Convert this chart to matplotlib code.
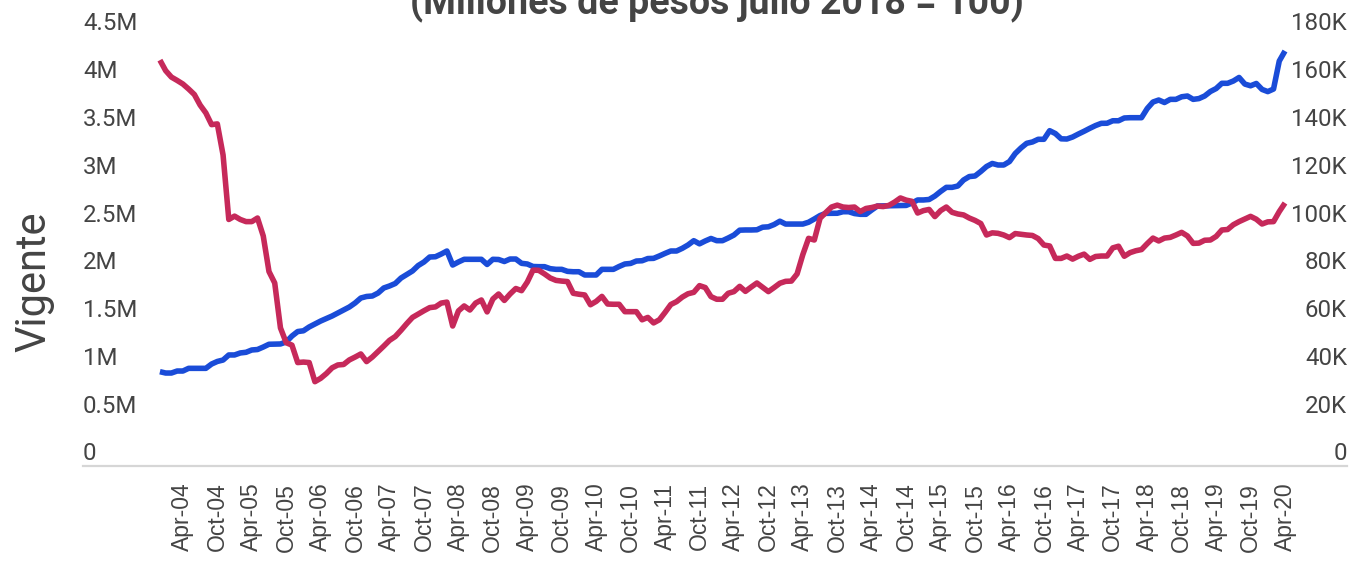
import matplotlib
matplotlib.use("Agg")
import matplotlib.pyplot as plt
import numpy as np
import pandas as pd
from matplotlib.transforms import ScaledTranslation

# ===== datos (mensuales, dic-2003 a abr-2020) =====
primer_mes = "2003-12-01"
ultimo_mes = "2020-04-01"

# cartera vigente, millones (eje izquierdo)
vigente = [
    0.987, 0.973, 0.973, 0.994, 0.994, 1.022, 1.022, 1.022, 1.022, 1.067,
    1.094, 1.109, 1.162, 1.162, 1.183, 1.190, 1.214, 1.219, 1.245, 1.274,
    1.275, 1.277, 1.298, 1.360, 1.407, 1.415, 1.455, 1.486, 1.517, 1.544,
    1.570, 1.601, 1.632, 1.664, 1.706, 1.758, 1.774, 1.779, 1.810, 1.863,
    1.884, 1.910, 1.967, 2.004, 2.041, 2.098, 2.135, 2.187, 2.190, 2.218,
    2.250, 2.103, 2.135, 2.163, 2.163, 2.163, 2.163, 2.109, 2.163, 2.161,
    2.140, 2.166, 2.166, 2.121, 2.114, 2.088, 2.086, 2.086, 2.065, 2.058,
    2.058, 2.037, 2.033, 2.033, 1.999, 1.999, 1.999, 2.058, 2.058, 2.058,
    2.088, 2.114, 2.120, 2.145, 2.148, 2.171, 2.173, 2.198, 2.225, 2.250,
    2.250, 2.278, 2.313, 2.358, 2.325, 2.355, 2.381, 2.358, 2.358, 2.386,
    2.417, 2.468, 2.470, 2.470, 2.472, 2.499, 2.503, 2.527, 2.562, 2.532,
    2.532, 2.532, 2.532, 2.551, 2.585, 2.621, 2.644, 2.644, 2.645, 2.661,
    2.661, 2.642, 2.634, 2.634, 2.679, 2.721, 2.722, 2.723, 2.725, 2.726,
    2.727, 2.752, 2.784, 2.784, 2.789, 2.825, 2.873, 2.916, 2.916, 2.930,
    2.993, 3.029, 3.035, 3.082, 3.134, 3.166, 3.150, 3.150, 3.186, 3.270,
    3.328, 3.377, 3.391, 3.419, 3.419, 3.509, 3.479, 3.424, 3.422, 3.443,
    3.474, 3.503, 3.534, 3.563, 3.586, 3.587, 3.613, 3.613, 3.642, 3.645,
    3.645, 3.645, 3.741, 3.809, 3.830, 3.804, 3.837, 3.837, 3.864, 3.872,
    3.837, 3.845, 3.872, 3.919, 3.950, 4.005, 4.005, 4.029, 4.066, 3.997,
    3.979, 4.003, 3.941, 3.918, 3.945, 4.238, 4.343,
]

# serie del eje derecho, miles
derecha = [
    169.9, 165.5, 162.8, 161.4, 159.9, 157.8, 155.5, 151.1, 147.8, 142.9,
    143.2, 130.2, 103.2, 104.6, 103.2, 102.3, 102.3, 103.8, 96.3, 81.4,
    76.6, 57.8, 51.6, 50.6, 43.3, 43.5, 43.3, 35.3, 36.7, 38.7,
    41.1, 42.3, 42.5, 44.4, 45.6, 46.9, 43.7, 45.6, 47.9, 50.2,
    52.6, 54.2, 56.8, 59.6, 62.2, 63.6, 65.0, 66.3, 66.6, 68.2,
    68.6, 58.6, 64.9, 67.0, 65.3, 68.2, 69.5, 64.5, 69.9, 72.0,
    69.3, 72.0, 74.3, 73.4, 77.0, 82.0, 81.9, 80.4, 78.7, 77.7,
    77.4, 77.2, 72.3, 71.9, 71.6, 67.5, 68.9, 71.0, 67.8, 67.7,
    67.7, 64.6, 64.6, 64.6, 61.2, 62.2, 59.9, 61.2, 64.3, 67.6,
    68.8, 70.7, 72.1, 72.7, 75.5, 74.7, 70.9, 69.8, 69.8, 72.3,
    73.0, 75.2, 73.1, 74.9, 76.6, 74.8, 73.0, 74.7, 76.5, 77.3,
    77.4, 80.4, 88.5, 95.3, 94.6, 103.7, 106.1, 108.4, 109.2, 108.4,
    108.2, 108.4, 106.5, 107.8, 108.2, 108.8, 108.6, 109.1, 110.5, 112.2,
    111.3, 110.8, 105.9, 106.9, 107.4, 104.4, 106.9, 108.4, 106.2, 105.5,
    105.1, 103.8, 102.8, 101.5, 96.7, 97.6, 97.4, 96.7, 95.6, 97.3,
    97.0, 96.7, 96.5, 95.2, 92.5, 92.1, 86.9, 86.9, 87.9, 86.6,
    87.8, 88.7, 86.5, 87.7, 87.9, 87.9, 91.3, 92.0, 87.8, 89.3,
    90.1, 90.6, 93.1, 95.4, 94.2, 95.4, 95.7, 96.7, 97.8, 96.3,
    93.2, 93.3, 94.5, 94.6, 96.1, 98.8, 99.0, 101.0, 102.3, 103.4,
    104.5, 103.3, 101.3, 102.2, 102.3, 106.5, 110.1,
]

ticks_izq = [0, 0.5, 1, 1.5, 2, 2.5, 3, 3.5, 4, 4.5]
etiquetas_izq = ["0", "0.5M", "1M", "1.5M", "2M", "2.5M", "3M", "3.5M", "4M", "4.5M"]
ticks_der = [0, 20, 40, 60, 80, 100, 120, 140, 160, 180]
etiquetas_der = ["0", "20K", "40K", "60K", "80K", "100K", "120K", "140K", "160K", "180K"]

titulo = "(Millones de pesos julio 2018 = 100)"
titulo_eje = "Vigente"

# ===== estilo =====
plt.rcParams['font.family'] = ['Roboto', 'DejaVu Sans']
gris = '#444444'
azul = '#1a4cd8'
rojo = '#c6295a'

meses = pd.date_range(primer_mes, ultimo_mes, freq='MS')
x = np.arange(len(meses))
pos_ticks = [i for i, m in enumerate(meses) if m.month in (4, 10)]
etiquetas_x = [meses[i].strftime('%b-%y') for i in pos_ticks]

W, H = 1355, 567
fig = plt.figure(figsize=(W / 100, H / 100), dpi=100)
ax = fig.add_axes([83 / W, (H - 466) / H, 1264 / W, 430 / H])
ax2 = ax.twinx()

ax.plot(x, vigente, color=azul, linewidth=4, solid_joinstyle='round', solid_capstyle='butt')
ax2.plot(x, derecha, color=rojo, linewidth=4, solid_joinstyle='round', solid_capstyle='butt')

ax.set_xlim(-13.4, 206.8)
ax.set_ylim(0, 4.5)
ax2.set_ylim(0, 180)

for a in (ax, ax2):
    for s in a.spines.values():
        s.set_visible(False)
ax.spines['bottom'].set_visible(True)
ax.spines['bottom'].set_color('#d6d6d6')
ax.spines['bottom'].set_linewidth(1.6)

ax.set_xticks(pos_ticks)
ax.set_xticklabels(etiquetas_x, rotation=90, fontsize=16.5, color=gris,
                   family=['Liberation Sans', 'DejaVu Sans'])
ax.tick_params(axis='x', length=0, pad=12)

ax.set_yticks(ticks_izq)
ax.set_yticklabels(etiquetas_izq, fontsize=17.3, color=gris)
ax.tick_params(axis='y', length=0, pad=0)
ax2.set_yticks(ticks_der)
ax2.set_yticklabels(etiquetas_der, fontsize=17.3, color=gris)
ax2.tick_params(axis='y', length=0, pad=0)

# etiquetas de los ejes por encima de la linea (estilo "in")
sube = ScaledTranslation(0, 4 / 72, fig.dpi_scale_trans)
for lab in ax.get_yticklabels():
    lab.set_ha('left')
    lab.set_va('baseline')
    lab.set_transform(lab.get_transform() + sube)
for lab in ax2.get_yticklabels():
    lab.set_ha('right')
    lab.set_va('baseline')
    lab.set_transform(lab.get_transform() + sube)

ax.set_ylabel(titulo_eje, fontsize=30, color=gris)
ax.yaxis.set_label_coords(-0.023, 0.428)

fig.text(717 / W, 1 - 14 / H, titulo, ha='center', va='baseline',
         fontsize=27, fontweight='bold', color=gris)

fig.savefig('out.png', dpi=100)
